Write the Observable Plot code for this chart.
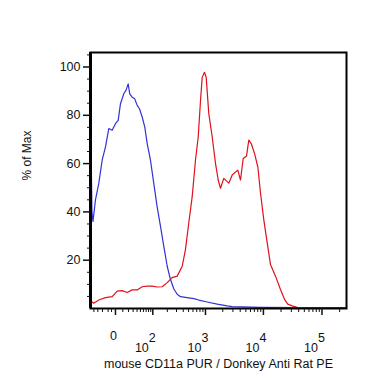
<!DOCTYPE html>
<html>
<head>
<meta charset="utf-8">
<script src="https://cdn.jsdelivr.net/npm/d3@7"></script>
<script src="https://cdn.jsdelivr.net/npm/@observablehq/plot@0.6"></script>
<style>
  html, body { margin: 0; padding: 0; background: white; }
</style>
</head>
<body>
<div id="chart"></div>
<script>
// Blue histogram (control)
const blueX = [-49, -47.6, -45.5, -42.6, -35.8, -27.8, -20.6, -14.4, -9, -4.2, 0, 3.4, 6.5, 11.6, 15.7, 19.4, 22.6, 27.8, 34, 40.4, 47, 55.7, 64.9, 74.3, 88.7, 105, 124, 146, 170, 199, 230, 266, 309, 356, 504, 621, 762, 1071, 1602, 2388, 2910, 8920, 43000, 262000];
const blueY = [89.5, 59, 40, 36, 45, 51.8, 61.4, 66.9, 74.5, 73.8, 76.5, 77.9, 84.8, 88.9, 90.5, 93, 88.9, 87.5, 86.8, 84.1, 82.7, 79.3, 75.1, 68.3, 61.4, 51.9, 42.2, 34, 25.8, 17.5, 12.1, 8.2, 5.9, 4.9, 4.4, 4.1, 3.5, 2.7, 1.8, 1.1, 0.8, 0.5, 0.4, 0.4];

// Red histogram (stained)
const redX = [-49.5, -40.4, -27.8, -14.4, -4.2, 2.1, 9, 17.5, 27.8, 40.4, 55.7, 74.3, 96.9, 124, 158, 199, 248, 309, 383, 439, 504, 581, 665, 744, 817, 875, 961, 1029, 1143, 1311, 1497, 1668, 1828, 2084, 2545, 2910, 3633, 4047, 4503, 5127, 5619, 6178, 7038, 8014, 8920, 10150, 11610, 13210, 16090, 19580, 22920, 26100, 31050, 40000, 262000];
const redY = [3.1, 2.2, 3.5, 4.5, 4.9, 7.2, 7.4, 6.6, 7.7, 7.7, 9.0, 9.3, 9.3, 8.9, 9.0, 10.7, 12.8, 13.4, 17.5, 24.4, 35.4, 46.3, 61.4, 71, 86.1, 95.7, 97.8, 95.7, 80.7, 71, 60.1, 53.2, 49.8, 53.9, 51.9, 55.3, 57.3, 53.2, 62.1, 63.1, 69.7, 68.3, 64.2, 58.7, 47.7, 36.7, 27.2, 18.2, 13.4, 7.9, 3.8, 1.8, 1.1, 0.3, 0.2];

// Axis ticks
const yMajor = [20, 40, 60, 80, 100];
const yMinor = [5, 10, 15, 25, 30, 35, 45, 50, 55, 65, 70, 75, 85, 90, 95, 105];
const xZero = [0];
const xDecades = [100, 1000, 10000, 100000];
const xExps = ["2", "3", "4", "5"];
const xMinor = [-40, -30, -20, -10, -5, 10, 20, 30, 40, 50, 60, 70, 80, 90,
  200, 300, 400, 500, 600, 700, 800, 900,
  2000, 3000, 4000, 5000, 6000, 7000, 8000, 9000,
  20000, 30000, 40000, 50000, 60000, 70000, 80000, 90000, 200000];

const yLabel = "% of Max";
const xLabel = "mouse CD11a PUR / Donkey Anti Rat PE";

const blue = blueX.map((x, i) => ({x, y: blueY[i]}));
const red = redX.map((x, i) => ({x, y: redY[i]}));

const chart = Plot.plot({
  width: 366,
  height: 379,
  marginLeft: 90,
  marginRight: 20,
  marginTop: 52,
  marginBottom: 71,
  style: {fontFamily: "'Liberation Sans', Arial, sans-serif", fontSize: "12px", background: "white", color: "#111"},
  x: {type: "symlog", constant: 30, domain: [-50, 262144], axis: null},
  y: {domain: [0, 106], axis: null},
  marks: [
    Plot.line(blue, {x: "x", y: "y", stroke: "#3232d4", strokeWidth: 1.2}),
    Plot.line(red, {x: "x", y: "y", stroke: "#e0101c", strokeWidth: 1.2}),
    Plot.frame({stroke: "black", strokeWidth: 2}),
    Plot.ruleX([-50], {stroke: "black", strokeWidth: 3}),
    Plot.axisX(xMinor, {tickSize: 4, tickFormat: () => "", label: null, strokeWidth: 1}),
    Plot.axisX([0, ...xDecades], {tickSize: 7, tickFormat: () => "", label: null, strokeWidth: 1.5}),
    Plot.axisY(yMinor, {tickSize: 3, tickFormat: () => "", label: null, strokeWidth: 1}),
    Plot.axisY(yMajor, {tickSize: 7, tickPadding: 3, label: null, strokeWidth: 1.5, fontSize: 12.5}),
    Plot.text(xZero, {x: d => d, frameAnchor: "bottom", dy: 31, dx: -2, text: () => "0", fontSize: 12.5}),
    Plot.text(xDecades, {x: d => d, frameAnchor: "bottom", dy: 43, dx: -4, textAnchor: "end", text: () => "10", fontSize: 12.5}),
    Plot.text(xDecades, {x: d => d, frameAnchor: "bottom", dy: 33, dx: -4, textAnchor: "start", text: (d, i) => xExps[i], fontSize: 12.5}),
    Plot.text([xLabel], {frameAnchor: "bottom", dy: 59, fontSize: 12.5}),
    Plot.text([yLabel], {frameAnchor: "left", dx: -63, rotate: -90, fontSize: 12})
  ]
});
document.getElementById("chart").appendChild(chart);
</script>
</body>
</html>
